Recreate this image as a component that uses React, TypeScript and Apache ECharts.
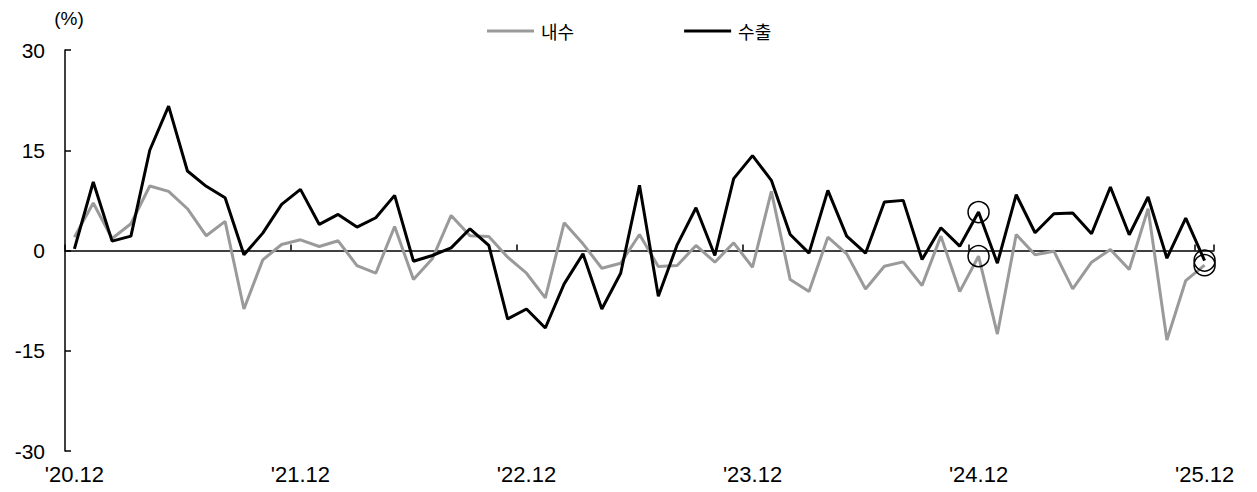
import React, { useEffect, useRef } from "react";
import * as echarts from "echarts";

const categories: string[] = [
  "'20.12",
  "'21.01", "'21.02", "'21.03", "'21.04", "'21.05", "'21.06", "'21.07", "'21.08", "'21.09", "'21.10", "'21.11", "'21.12",
  "'22.01", "'22.02", "'22.03", "'22.04", "'22.05", "'22.06", "'22.07", "'22.08", "'22.09", "'22.10", "'22.11", "'22.12",
  "'23.01", "'23.02", "'23.03", "'23.04", "'23.05", "'23.06", "'23.07", "'23.08", "'23.09", "'23.10", "'23.11", "'23.12",
  "'24.01", "'24.02", "'24.03", "'24.04", "'24.05", "'24.06", "'24.07", "'24.08", "'24.09", "'24.10", "'24.11", "'24.12",
  "'25.01", "'25.02", "'25.03", "'25.04", "'25.05", "'25.06", "'25.07", "'25.08", "'25.09", "'25.10", "'25.11", "'25.12",
];

// 내수 (domestic)
const domestic: number[] = [
  2.0, 7.1, 1.8, 4.0, 9.65, 8.85, 6.25, 2.2, 4.35, -8.75, -1.4, 0.9,
  1.6, 0.6, 1.45, -2.25, -3.4, 3.6, -4.35, -1.25, 5.25, 2.2, 2.1, -1.0,
  -3.4, -7.1, 4.15, 1.0, -2.65, -1.9, 2.4, -2.4, -2.25, 0.75, -1.75, 1.15,
  -2.5, 8.85, -4.35, -6.15, 2.0, -0.5, -5.75, -2.35, -1.7, -5.25, 2.15, -6.15,
  -0.85, -12.5, 2.4, -0.65, -0.1, -5.75, -1.75, 0.15, -2.85, 6.25, -13.4, -4.5,
  -2.2,
];

// 수출 (export)
const exportsYoY: number[] = [
  0.25, 10.25, 1.4, 2.15, 15.0, 21.6, 11.9, 9.6, 7.9, -0.65, 2.6, 6.9,
  9.15, 3.9, 5.4, 3.5, 4.9, 8.25, -1.6, -0.75, 0.4, 3.25, 0.75, -10.25,
  -8.75, -11.6, -5.0, -0.5, -8.75, -3.4, 9.75, -6.85, 0.85, 6.4, -0.75, 10.75,
  14.2, 10.5, 2.4, -0.4, 9.0, 2.15, -0.4, 7.25, 7.5, -1.35, 3.4, 0.65,
  5.75, -1.9, 8.35, 2.65, 5.5, 5.6, 2.5, 9.5, 2.35, 8.0, -1.15, 4.85,
  -1.5,
];

const highlightIdx: number[] = [48, 60];
const yTicks = { min: -30, max: 30, interval: 15 };
const seriesNames = ["내수", "수출"];

const NUM_FONT = "'Liberation Sans', Arial, sans-serif";
const KR_FONT = "'Noto Sans CJK KR', sans-serif";

export default function App() {
  const ref = useRef<HTMLDivElement>(null);
  useEffect(() => {
    if (!ref.current) return;
    const chart = echarts.init(ref.current, undefined, { renderer: "svg" });
    const circleStyle = {
      color: "rgba(0,0,0,0)",
      borderColor: "#000",
      borderWidth: 1.5,
    };
    const mk = (vals: number[]) => ({
      symbol: "circle",
      symbolSize: 21,
      itemStyle: circleStyle,
      label: { show: false },
      data: highlightIdx.map((i) => ({ coord: [categories[i], vals[i]] })),
    });
    chart.setOption({
      animation: false,
      backgroundColor: "#fff",
      grid: { left: 65, right: 43, top: 50, bottom: 41, containLabel: false },
      legend: {
        left: 482,
        top: 17,
        itemWidth: 47,
        itemHeight: 3,
        itemGap: 110,
        icon: "rect",
        textStyle: { fontFamily: KR_FONT, fontSize: 18, color: "#000", padding: [0, 0, 0, 2] },
        data: seriesNames,
      },
      xAxis: [
        {
          type: "category",
          data: categories,
          boundaryGap: true,
          position: "bottom",
          axisLine: { show: false, onZero: false },
          axisTick: { show: false },
          axisLabel: {
            interval: 11,
            margin: 12,
            fontFamily: NUM_FONT,
            fontSize: 22,
            color: "#000",
          },
          splitLine: { show: false },
        },
        {
          type: "category",
          data: categories,
          boundaryGap: true,
          position: "bottom",
          axisLine: { show: true, onZero: true, lineStyle: { color: "#000", width: 1.5 } },
          axisTick: { show: true, interval: 11, inside: true, length: 6, lineStyle: { color: "#000", width: 1.5 } },
          axisLabel: { show: false },
          splitLine: { show: false },
        },
      ],
      yAxis: {
        type: "value",
        min: yTicks.min,
        max: yTicks.max,
        interval: yTicks.interval,
        name: "(%)",
        nameLocation: "end",
        nameGap: 22,
        nameTextStyle: { fontFamily: NUM_FONT, fontSize: 19, color: "#000", align: "center", padding: [0, 0, 0, 8] },
        axisLine: { show: true, lineStyle: { color: "#000", width: 1.5 } },
        axisTick: { show: true, inside: true, length: 6, lineStyle: { color: "#000", width: 1.5 } },
        axisLabel: { margin: 20, fontFamily: NUM_FONT, fontSize: 21, color: "#000" },
        splitLine: { show: false },
      },
      series: [
        {
          name: seriesNames[0],
          type: "line",
          xAxisIndex: 0,
          data: domestic,
          symbol: "none",
          lineStyle: { color: "#9a9a9a", width: 3 },
          itemStyle: { color: "#9a9a9a" },
          markPoint: mk(domestic),
          z: 2,
        },
        {
          name: seriesNames[1],
          type: "line",
          xAxisIndex: 0,
          data: exportsYoY,
          symbol: "none",
          lineStyle: { color: "#000", width: 3 },
          itemStyle: { color: "#000" },
          markPoint: mk(exportsYoY),
          z: 3,
        },
      ],
    });
    return () => chart.dispose();
  }, []);
  return (
    <div
      ref={ref}
      style={{ position: "fixed", left: 0, top: 0, width: 1257, height: 492, background: "#fff" }}
    />
  );
}
